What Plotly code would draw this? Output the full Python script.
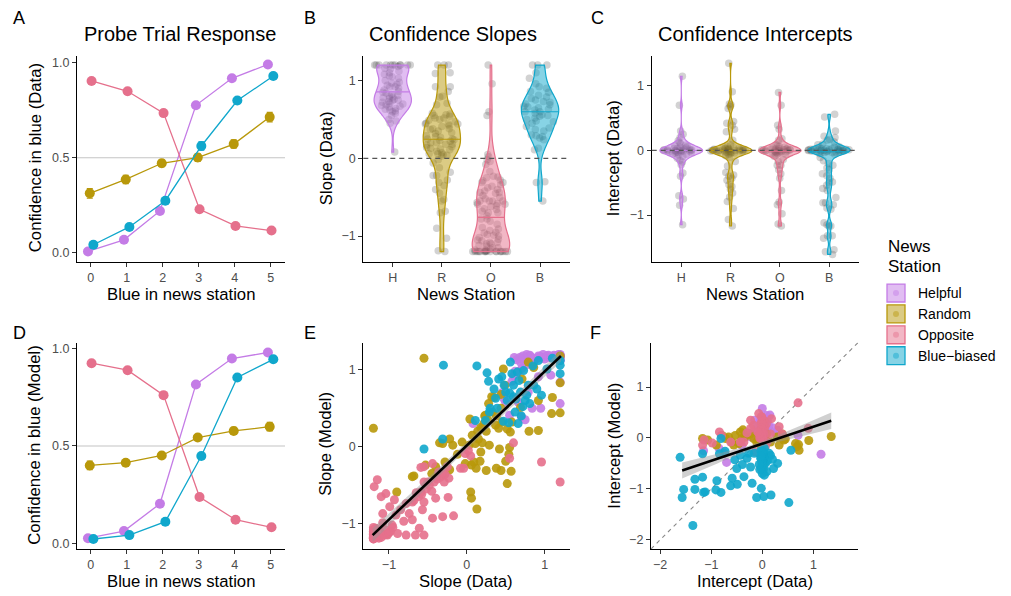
import numpy as np
import plotly.graph_objects as go

W, H = 1011, 596
def px(x): return x / W
def py(y): return 1 - y / H

FONT = "Liberation Sans, Arial, sans-serif"
COL = {"H": "#C47CE6", "R": "#B8980A", "O": "#E5708C", "B": "#10A7CC"}
FILL = {"H": "rgba(196,124,230,0.5)", "R": "rgba(184,152,10,0.5)",
        "O": "rgba(229,112,140,0.5)", "B": "rgba(16,167,204,0.5)"}
groups = ["H", "R", "O", "B"]
names = ["Helpful", "Random", "Opposite", "Blue\u2212biased"]

# ---------------- data ----------------
blue_in_station = [0, 1, 2, 3, 4, 5]
cat_labels = ["H", "R", "O", "B"]

probe_data_H = [0.007, 0.068, 0.220, 0.776, 0.918, 0.991]
probe_data_R = [0.313, 0.386, 0.471, 0.501, 0.572, 0.714]
probe_data_O = [0.904, 0.850, 0.735, 0.229, 0.141, 0.117]
probe_data_B = [0.042, 0.136, 0.274, 0.562, 0.801, 0.930]
probe_data_err_H = [0.004, 0.008, 0.012, 0.012, 0.010, 0.006]
probe_data_err_R = [0.025, 0.022, 0.018, 0.020, 0.022, 0.025]
probe_data_err_O = [0.010, 0.012, 0.015, 0.014, 0.010, 0.010]
probe_data_err_B = [0.010, 0.012, 0.016, 0.022, 0.015, 0.012]

probe_model_H = [0.026, 0.063, 0.203, 0.816, 0.949, 0.980]
probe_model_R = [0.400, 0.414, 0.451, 0.543, 0.577, 0.599]
probe_model_O = [0.925, 0.889, 0.761, 0.238, 0.121, 0.082]
probe_model_B = [0.022, 0.042, 0.111, 0.448, 0.852, 0.945]
probe_model_err_H = [0.004, 0.005, 0.006, 0.006, 0.005, 0.004]
probe_model_err_R = [0.022, 0.015, 0.012, 0.012, 0.018, 0.022]
probe_model_err_O = [0.005, 0.005, 0.006, 0.006, 0.005, 0.004]
probe_model_err_B = [0.004, 0.005, 0.006, 0.008, 0.006, 0.005]

slope_data_H = [1.20, 1.20, 1.20, 1.20, 1.20, 1.20, 1.20, 1.20, 1.20, 1.20, 1.20, 1.18, 1.16, 1.15,
                1.12, 1.10, 1.08, 1.06, 1.05, 1.03, 1.00, 0.98, 0.97, 0.95, 0.94, 0.92, 0.92, 0.90,
                0.88, 0.86, 0.85, 0.84, 0.82, 0.81, 0.80, 0.79, 0.78, 0.77, 0.76, 0.75, 0.74, 0.73,
                0.72, 0.71, 0.70, 0.69, 0.68, 0.67, 0.66, 0.64, 0.63, 0.62, 0.61, 0.60, 0.58, 0.55,
                0.50, 0.48, 0.45, 0.08]
slope_model_H = [1.18, 1.15, 1.17, 0.84, 0.56, 1.19, 1.16, 1.12, 1.20, 1.12, 1.18, 1.20, 1.15, 1.18,
                 1.19, 1.17, 0.93, 1.16, 1.19, 1.18, 1.14, 1.20, 1.16, 0.50, 1.17, 1.18, 0.91, 1.15,
                 1.14, 1.10, 1.08, 0.50, 1.17, 1.19, 1.18, 0.71, 1.12, 1.20, 1.06, 0.35, 1.15, 1.12,
                 1.18, 1.02, 0.39, 1.10, 1.16, 0.98, 0.58, 1.13, 0.63, 0.98, 1.16, 0.92, 0.85, 0.41,
                 0.58, 0.62, 0.70, 0.30]

slope_data_R = [-1.20, -1.19, -1.03, -0.90, -0.70, -0.68, -0.55, -0.53, -0.45, -0.40, -0.35, -0.31,
                -0.28, -0.22, -0.22, -0.18, -0.12, -0.06, -0.02, 0.03, 0.04, 0.05, 0.06, 0.06, 0.07,
                0.09, 0.11, 0.12, 0.13, 0.14, 0.15, 0.17, 0.18, 0.18, 0.20, 0.20, 0.22, 0.23, 0.24,
                0.25, 0.25, 0.27, 0.28, 0.29, 0.32, 0.33, 0.35, 0.37, 0.38, 0.38, 0.41, 0.42, 0.44,
                0.44, 0.44, 0.45, 0.47, 0.49, 0.50, 0.52, 0.52, 0.54, 0.55, 0.56, 0.57, 0.58, 0.69,
                0.71, 0.79, 0.80, 0.86, 0.92, 0.92, 1.09, 1.10, 1.20, 1.20, 1.20]
slope_model_R = [0.24, -1.13, -1.14, -0.59, -0.39, -0.38, 1.15, -0.24, -0.35, -0.26, 0.05, 0.04,
                 -0.20, 0.10, -0.30, 0.02, -0.10, 0.06, -0.22, 0.02, 0.36, -0.59, -0.24, -0.67, 0.15,
                 -0.20, 0.04, -0.28, -0.81, 0.20, 0.10, -0.19, -0.07, 0.25, 0.24, 0.05, 0.30, 0.40,
                 0.41, -0.31, 0.20, 0.35, 0.56, 0.02, 0.65, 0.45, 0.64, 0.28, -0.28, 0.40, 0.24, -0.03,
                 0.68, -0.31, 0.50, 0.32, 1.01, 0.80, -0.19, -0.48, 0.23, -0.10, -0.01, 0.19, -0.32,
                 0.32, 0.51, 0.88, 1.10, 0.20, 1.03, 0.21, 0.60, 0.43, 0.64, 0.83, 0.44, 1.18]

slope_data_O = [-1.20, -1.20, -1.20, -1.20, -1.20, -1.20, -1.20, -1.20, -1.20, -1.20, -1.20, -1.20,
                -1.20, -1.20, -1.20, -1.20, -1.19, -1.18, -1.18, -1.17, -1.15, -1.15, -1.13, -1.12,
                -1.10, -1.10, -1.08, -1.08, -1.06, -1.05, -1.04, -1.02, -1.00, -0.99, -0.98, -0.96,
                -0.95, -0.93, -0.91, -0.89, -0.85, -0.81, -0.78, -0.78, -0.74, -0.70, -0.70, -0.68,
                -0.66, -0.65, -0.62, -0.61, -0.59, -0.59, -0.58, -0.57, -0.55, -0.55, -0.55, -0.55,
                -0.52, -0.50, -0.48, -0.45, -0.44, -0.44, -0.42, -0.40, -0.38, -0.36, -0.34, -0.31,
                -0.31, -0.29, -0.28, -0.25, -0.24, -0.23, -0.17, -0.08, -0.04, -0.02, 0.02, 0.05,
                0.55, 0.60, 0.96, 1.20]
slope_model_O = [-1.18, -1.15, -1.12, -1.10, -1.05, -1.19, -1.18, -1.13, -1.17, -1.16, -1.08, -1.20,
                 -1.18, -1.14, -1.19, -1.20, -0.52, -1.19, -1.17, -1.06, -0.43, -1.17, -1.19, -1.10,
                 -0.65, -1.18, -0.99, -0.87, -1.15, -1.08, -0.61, -1.15, -1.12, -0.78, -1.10, -1.02,
                 -1.05, -0.69, -0.89, -1.13, -0.82, -0.97, -0.74, -1.15, -0.87, -0.95, -0.72, -0.70,
                 -1.15, -0.60, -0.65, -1.06, -0.59, -0.27, -0.62, -0.82, -1.15, -0.72, -0.46, -0.26,
                 -0.55, -0.46, -0.50, -0.58, -0.93, -0.22, -0.46, -0.67, -0.42, -0.33, -0.40, -0.91,
                 -0.35, -0.46, -0.36, -0.26, -0.66, -0.41, -0.90, -0.28, -0.28, -0.09, -0.05, -0.12,
                 -0.15, 0.05, -0.20, -0.46]

slope_data_B = [-0.55, -0.31, -0.30, 0.13, 0.11, 0.24, 0.26, 0.28, 0.29, 0.30, 0.35, 0.37, 0.39, 0.41,
                0.45, 0.47, 0.48, 0.50, 0.52, 0.54, 0.55, 0.56, 0.58, 0.60, 0.60, 0.62, 0.63, 0.65,
                0.66, 0.67, 0.69, 0.70, 0.72, 0.73, 0.75, 0.77, 0.79, 0.81, 0.85, 0.86, 0.90, 0.92,
                0.96, 1.03, 1.10, 1.20, 1.20, 1.20]
slope_model_B = [-0.03, 0.10, 1.06, 1.05, 0.34, 0.34, 0.96, 0.85, 0.45, 0.50, 0.75, 0.63, 0.50, 0.88,
                 0.91, 0.33, 0.80, 0.71, 0.60, 0.31, 0.70, 1.10, 0.95, 0.80, 0.65, 0.45, 0.62, 0.97,
                 0.30, 0.86, 0.71, 0.40, 0.52, 0.99, 0.60, 0.67, 0.80, 0.56, 1.05, 0.80, 0.75, 1.12,
                 0.67, 1.01, 1.15, 1.06, 0.95, 1.12]

int_data_H = [1.15, 0.70, 0.30, 0.25, 0.20, 0.15, 0.12, 0.10, 0.08, 0.07, 0.06, 0.05, 0.04, 0.03,
              0.03, 0.02, 0.02, 0.01, 0.01, 0.01, 0.00, 0.00, 0.00, 0.00, 0.00, 0.00, -0.01, -0.01,
              -0.01, -0.02, -0.02, -0.02, -0.03, -0.03, -0.04, -0.05, -0.06, -0.07, -0.09,
              -0.12, -0.15, -0.18, -0.22, -0.35, -0.40, -0.70, -0.75, -0.85, -1.15]
int_model_H = [-0.32, 0.05, 0.15, 0.10, 0.20, 0.45, 0.25, 0.34, 0.44, 0.10, 0.19, 0.00, 0.22, 0.31,
               0.14, 0.05, 0.30, 0.27, 0.20, 0.40, 0.58, 0.15, -0.05, 0.10, 0.25, 0.08, 0.12, 0.35,
               0.18, 0.28, 0.05, 0.22, 0.38, 0.26, 0.05, 0.20, 0.30, 0.10, 0.25,
               0.16, 0.35, 0.12, 0.02, 0.02, -0.15, -0.48, -0.30, -0.20, -0.25]

int_data_R = [1.35, 0.91, 0.72, 0.71, 0.68, 0.65, 0.45, 0.42, 0.39, 0.33, 0.29, 0.16, 0.09, 0.06,
              0.05, 0.04, 0.03, 0.03, 0.03, 0.02, 0.02, 0.02, 0.02, 0.01, 0.01, 0.01, 0.01, 0.00,
              0.00, 0.00, 0.00, 0.00, -0.01, -0.01, -0.01, -0.01, -0.01, -0.02, -0.02, -0.02, -0.03,
              -0.03, -0.04, -0.05, -0.06, -0.08, -0.11, -0.17, -0.24, -0.34, -0.38, -0.40, -0.43,
              -0.46, -0.53, -0.56, -0.60, -0.66, -0.72, -0.79, -0.90, -1.07, -1.17]
int_model_R = [0.03, -0.05, -0.24, -0.13, -0.17, -0.11, -0.02, -0.04, 0.08, -0.14, 0.02, -0.08, 0.08, -0.07,
               0.00, 0.03, -0.10, 0.12, 0.01, 0.05, -0.02, 0.08, -0.06, -0.03, -0.05, -0.12, 0.04, 0.02,
               -0.06, 0.00, 0.06, -0.10, 0.10, 0.05, 0.03, -0.02, 0.14, -0.02, -0.15, -0.08, 0.04,
               0.09, -0.12, 0.00, 0.06, -0.05, -0.08, -0.01, 0.08, 0.02, 0.16, -0.01, 0.12,
               -0.11, 0.05, -0.14, -0.08, 0.02, -0.01, 0.05, -0.14, -0.04, -0.01]

int_data_O = [0.90, 0.70, 0.39, 0.33, 0.18, 0.16, 0.09, 0.08, 0.06, 0.05, 0.04, 0.03, 0.03, 0.02,
              0.02, 0.02, 0.01, 0.01, 0.01, 0.01, 0.00, 0.00, 0.00, 0.00, -0.01, -0.01, -0.01,
              -0.02, -0.02, -0.02, -0.03, -0.03, -0.04, -0.05, -0.06, -0.07, -0.09, -0.14, -0.17,
              -0.23, -0.23, -0.30, -0.36, -0.43, -0.62, -0.80, -0.84, -0.98, -1.14, -1.17]
int_model_O = [0.19, 0.69, 0.08, 0.22, 0.38, 0.08, -0.08, 0.28, -0.17, 0.22, 0.33, 0.05, 0.18, 0.10,
               0.35, 0.08, -0.02, 0.25, 0.15, -0.05, -0.64, 0.18, 0.12, 0.00, 0.41, 0.05, 0.30,
               0.30, 0.20, 0.42, 0.15, 0.10, 0.02, 0.00, 0.08, 0.48, 0.12, -0.27, 0.25,
               0.19, 0.35, 0.10, -0.08, -0.08, -0.08, 0.05, 0.12, -0.10, -0.04, -0.14]

int_data_B = [0.56, 0.52, 0.30, 0.22, 0.20, 0.17, 0.16, 0.13, 0.10, 0.09, 0.06, 0.05, 0.04, 0.04,
              0.03, 0.03, 0.03, 0.02, 0.02, 0.02, 0.02, 0.01, 0.01, 0.01, 0.01, 0.01, 0.00, 0.00,
              0.00, 0.00, 0.00, 0.00, -0.01, -0.01, -0.01, -0.01, -0.01, -0.02, -0.02, -0.02,
              -0.03, -0.03, -0.03, -0.05, -0.06, -0.11, -0.16, -0.20, -0.23, -0.27, -0.30, -0.36,
              -0.39, -0.43, -0.49, -0.50, -0.54, -0.59, -0.62, -0.73, -0.81, -0.81, -0.84, -0.89,
              -0.91, -1.12, -1.15, -1.17, -1.17, -1.32, -1.32, -1.36, -1.54, -1.57, -1.61]
int_model_B = [-0.24, -1.27, -0.50, -0.60, -0.42, -1.12, -0.34, -0.30, -0.45, -0.66, -0.50, -0.32, -0.73, -0.20,
               -1.15, -0.38, -0.48, -0.55, -0.35, -0.62, -0.40, -0.45, -0.25, -0.42, -0.33, -0.30,
               -0.28, -0.48, -0.45, -0.70, -0.52, -0.39, -0.35, -0.50, -0.38, -0.28, -0.44, -0.99,
               -0.42, -0.60, -0.40, -0.25, -0.36, -0.62, -0.52, -1.17, -0.30, -0.89, -0.57, -0.30,
               -0.40, -0.76, -0.52, -0.34, -0.91, -0.60, -0.43, -0.79, -0.94, -0.26, -0.01, -1.07,
               -0.31, -0.84, -1.02, -1.06, -1.07, -0.31, -0.77, -1.01, -0.81, -1.72, -1.01, -1.17, -0.38]

# fitted regression lines (x range, fitted y at the ends)
fit_slope_x = [-1.21, 1.21]
fit_slope_y = [-1.15, 1.18]
fit_int_x = [-1.57, 1.35]
fit_int_y = [-0.64, 0.34]

probe_data = {"H": probe_data_H, "R": probe_data_R, "O": probe_data_O, "B": probe_data_B}
probe_data_err = {"H": probe_data_err_H, "R": probe_data_err_R, "O": probe_data_err_O, "B": probe_data_err_B}
probe_model = {"H": probe_model_H, "R": probe_model_R, "O": probe_model_O, "B": probe_model_B}
probe_model_err = {"H": probe_model_err_H, "R": probe_model_err_R, "O": probe_model_err_O, "B": probe_model_err_B}
slope_data = {"H": slope_data_H, "R": slope_data_R, "O": slope_data_O, "B": slope_data_B}
slope_model = {"H": slope_model_H, "R": slope_model_R, "O": slope_model_O, "B": slope_model_B}
int_data = {"H": int_data_H, "R": int_data_R, "O": int_data_O, "B": int_data_B}
int_model = {"H": int_model_H, "R": int_model_R, "O": int_model_O, "B": int_model_B}

# ---------------- helpers ----------------
def nrd0(v):
    v = np.asarray(v, float)
    sd = v.std(ddof=1)
    q75, q25 = np.percentile(v, [75, 25])
    lo = min(sd, (q75 - q25) / 1.34)
    if lo <= 0:
        lo = sd
    return 0.9 * lo * len(v) ** -0.2

def kde(v, bw, t):
    v = np.asarray(v, float)
    t = np.atleast_1d(t)
    return np.exp(-0.5 * ((t[:, None] - v[None, :]) / bw) ** 2).sum(1)

def fit_band(x, y, fx, fy, n_pts=80):
    x = np.asarray(x, float); y = np.asarray(y, float); n = len(x)
    b = (fy[1] - fy[0]) / (fx[1] - fx[0]); a = fy[0] - b * fx[0]
    xs = np.linspace(fx[0], fx[1], n_pts)
    yh = a + b * xs
    s = np.sqrt(((y - (a + b * x)) ** 2).sum() / (n - 2))
    sxx = ((x - x.mean()) ** 2).sum()
    se = s * np.sqrt(1 / n + (xs - x.mean()) ** 2 / sxx)
    return xs, yh, yh - 1.97 * se, yh + 1.97 * se

fig = go.Figure()

# ---------------- panels A & D ----------------
dodge = {"H": -0.075, "R": -0.025, "O": 0.025, "B": 0.075}
for ax, vals, errs in [("", probe_data, probe_data_err), ("4", probe_model, probe_model_err)]:
    for g in groups:
        fig.add_trace(go.Scatter(
            x=[s + dodge[g] for s in blue_in_station], y=vals[g],
            error_y=dict(type="data", array=errs[g], width=3, thickness=1.2, color=COL[g]),
            mode="lines+markers", line=dict(color=COL[g], width=1.3),
            marker=dict(color=COL[g], size=10),
            xaxis="x" + ax, yaxis="y" + ax, showlegend=False, hoverinfo="skip"))

# ---------------- panels B & C (violins) ----------------
for ax, dd, vw, bwfix in [("2", slope_data, 0.76, None), ("3", int_data, 0.86, 0.06)]:
    bws = {g: (bwfix if bwfix else nrd0(dd[g])) for g in groups}
    for i, g in enumerate(groups):
        v = dd[g]
        fig.add_trace(go.Violin(
            x=[i] * len(v), y=v, width=vw, bandwidth=bws[g], spanmode="hard", scalemode="width",
            points="all", pointpos=0, jitter=1.0, fillcolor="rgba(0,0,0,0)",
            line=dict(color="rgba(0,0,0,0)", width=0),
            marker=dict(color="#333333", opacity=0.22, size=7.5, line=dict(width=0)),
            xaxis="x" + ax, yaxis="y" + ax, showlegend=False, hoverinfo="skip"))
    for i, g in enumerate(groups):
        v = dd[g]
        bw = bws[g]
        fig.add_trace(go.Violin(
            x=[i] * len(v), y=v, width=vw, bandwidth=bw, spanmode="hard", scalemode="width",
            points=False, fillcolor=FILL[g], line=dict(color=COL[g], width=1.2),
            xaxis="x" + ax, yaxis="y" + ax, showlegend=False, hoverinfo="skip"))
        vv = np.asarray(v, float)
        grid = np.linspace(vv.min(), vv.max(), 600)
        med = float(np.median(vv))
        hw = vw / 2 * kde(vv, bw, med)[0] / kde(vv, bw, grid).max()
        fig.add_trace(go.Scatter(x=[i - hw, i + hw], y=[med, med], mode="lines",
                                 line=dict(color=COL[g], width=1.1),
                                 xaxis="x" + ax, yaxis="y" + ax, showlegend=False, hoverinfo="skip"))

# ---------------- panels E & F (scatter) ----------------
for ax, xd, yd, fx, fy in [("5", slope_data, slope_model, fit_slope_x, fit_slope_y),
                           ("6", int_data, int_model, fit_int_x, fit_int_y)]:
    allx, ally = [], []
    for g in groups:
        fig.add_trace(go.Scatter(x=xd[g], y=yd[g], mode="markers",
                                 marker=dict(color=COL[g], size=9, opacity=0.9, line=dict(width=0)),
                                 xaxis="x" + ax, yaxis="y" + ax, showlegend=False, hoverinfo="skip"))
        allx += xd[g]; ally += yd[g]
    xs, yh, lo, hi = fit_band(allx, ally, fx, fy)
    fig.add_trace(go.Scatter(x=np.concatenate([xs, xs[::-1]]), y=np.concatenate([hi, lo[::-1]]),
                             fill="toself", fillcolor="rgba(150,150,150,0.45)", line=dict(width=0),
                             mode="lines", xaxis="x" + ax, yaxis="y" + ax, showlegend=False, hoverinfo="skip"))
    fig.add_trace(go.Scatter(x=xs, y=yh, mode="lines", line=dict(color="black", width=2.6),
                             xaxis="x" + ax, yaxis="y" + ax, showlegend=False, hoverinfo="skip"))

# ---------------- axes ----------------
def axis(domain, rng, tickvals, ticktext=None, anchor=None):
    d = dict(domain=domain, range=rng, tickvals=tickvals, showline=True, linecolor="black",
             linewidth=1.3, ticks="outside", ticklen=4, tickwidth=1, tickcolor="#333333",
             tickfont=dict(family=FONT, size=12.5, color="#4d4d4d"), showgrid=False,
             zeroline=False, anchor=anchor, fixedrange=True)
    if ticktext is not None:
        d["ticktext"] = ticktext
    return d

rowTop = [py(262), py(55)]
rowBot = [py(550.7), py(343.3)]
colA = [px(77), px(285)]
colB = [px(363.3), px(569.5)]
colC = [px(651.7), px(858.7)]
colF = [px(651), px(858.3)]

layout = dict(
    xaxis=axis(colA, [-0.38, 5.40], blue_in_station, anchor="y"),
    yaxis=axis(rowTop, [-0.047, 1.037], [0, 0.5, 1], ["0.0", "0.5", "1.0"], anchor="x"),
    xaxis2=axis(colB, [-0.6, 3.6], [0, 1, 2, 3], cat_labels, anchor="y2"),
    yaxis2=axis(rowTop, [-1.33, 1.32], [-1, 0, 1], anchor="x2"),
    xaxis3=axis(colC, [-0.6, 3.6], [0, 1, 2, 3], cat_labels, anchor="y3"),
    yaxis3=axis(rowTop, [-1.723, 1.468], [-1, 0, 1], anchor="x3"),
    xaxis4=axis(colA, [-0.38, 5.40], blue_in_station, anchor="y4"),
    yaxis4=axis(rowBot, [-0.029, 1.031], [0, 0.5, 1], ["0.0", "0.5", "1.0"], anchor="x4"),
    xaxis5=axis(colB, [-1.33, 1.32], [-1, 0, 1], anchor="y5"),
    yaxis5=axis(rowBot, [-1.33, 1.354], [-1, 0, 1], anchor="x5"),
    xaxis6=axis(colF, [-2.18, 1.88], [-2, -1, 0, 1], anchor="y6"),
    yaxis6=axis(rowBot, [-2.18, 1.875], [-2, -1, 0, 1], anchor="x6"),
)
fig.update_layout(**layout)

shapes = [
    dict(type="line", xref="x domain", yref="y", x0=0, x1=1, y0=0.5, y1=0.5,
         line=dict(color="#c4c4c4", width=1.1), layer="below"),
    dict(type="line", xref="x4 domain", yref="y4", x0=0, x1=1, y0=0.5, y1=0.5,
         line=dict(color="#c4c4c4", width=1.1), layer="below"),
    dict(type="line", xref="x2 domain", yref="y2", x0=0, x1=1, y0=0, y1=0,
         line=dict(color="#555555", width=1.3, dash="5px,4px"), layer="above"),
    dict(type="line", xref="x3 domain", yref="y3", x0=0, x1=1, y0=0, y1=0,
         line=dict(color="#555555", width=1.3, dash="5px,4px"), layer="above"),
    dict(type="line", xref="x6", yref="y6", x0=-2.18, y0=-2.18, x1=1.88, y1=1.88,
         line=dict(color="#888888", width=1.1, dash="4px,4px"), layer="below"),
]

ann = []
def text(x, y, s, size, color="black", angle=0, xanchor="center", yanchor="middle"):
    ann.append(dict(x=px(x), y=py(y), xref="paper", yref="paper", text=s, showarrow=False,
                    textangle=angle, xanchor=xanchor, yanchor=yanchor,
                    font=dict(family=FONT, size=size, color=color)))

for s, x, y in [("A", 19, 17), ("B", 310, 17), ("C", 597, 17), ("D", 19, 334), ("E", 310, 334), ("F", 595, 334)]:
    text(x, y, s, 18)
text(180, 33, "Probe Trial Response", 20)
text(453, 33, "Confidence Slopes", 20)
text(755, 33, "Confidence Intercepts", 20)
text(181, 295, "Blue in news station", 16.7)
text(466, 295, "News Station", 16.7)
text(755, 295, "News Station", 16.7)
text(181, 583, "Blue in news station", 16.7)
text(466, 583, "Slope (Data)", 16.7)
text(755, 583, "Intercept (Data)", 16.7)
text(35, 158, "Confidence in blue (Data)", 16.7, angle=-90)
text(326, 158, "Slope (Data)", 16.7, angle=-90)
text(613, 158, "Intercept (Data)", 16.7, angle=-90)
text(35, 447, "Confidence in blue (Model)", 16.7, angle=-90)
text(326, 445, "Slope (Model)", 16.7, angle=-90)
text(615, 447, "Intercept (Model)", 16.7, angle=-90)

text(886, 247, "News", 17, xanchor="left")
text(886, 267, "Station", 17, xanchor="left")
for k, (g, nm) in enumerate(zip(groups, names)):
    yc = 293.5 + k * 21
    shapes.append(dict(type="rect", xref="paper", yref="paper", x0=px(887), x1=px(905),
                       y0=py(yc + 9), y1=py(yc - 9), fillcolor=FILL[g],
                       line=dict(color=COL[g], width=1.3)))
    shapes.append(dict(type="circle", xref="paper", yref="paper", x0=px(893), x1=px(899),
                       y0=py(yc + 3), y1=py(yc - 3), fillcolor=COL[g], opacity=0.45,
                       line=dict(width=0)))
    text(916, yc, nm, 14, xanchor="left")

fig.update_layout(
    width=W, height=H, margin=dict(l=0, r=0, t=0, b=0),
    paper_bgcolor="white", plot_bgcolor="white",
    violinmode="overlay", showlegend=False,
    shapes=shapes, annotations=ann, font=dict(family=FONT),
)

fig.write_html("out.html")
